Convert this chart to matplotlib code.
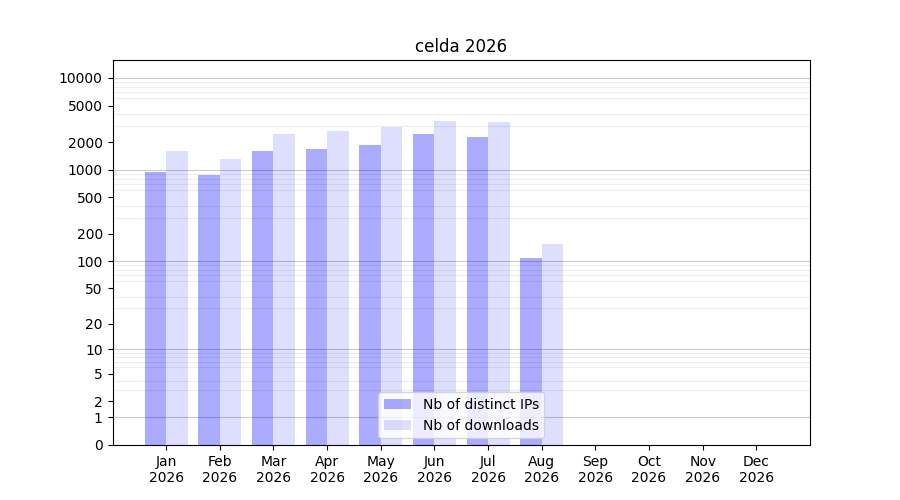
import matplotlib
matplotlib.use('Agg')
import matplotlib.pyplot as plt
import numpy as np

# Monthly download stats
months = ['Jan', 'Feb', 'Mar', 'Apr', 'May', 'Jun',
          'Jul', 'Aug', 'Sep', 'Oct', 'Nov', 'Dec']
year = '2026'
distinct_ips = [945, 875, 1600, 1680, 1860, 2450, 2280, 108, 0, 0, 0, 0]
downloads = [1600, 1310, 2450, 2650, 2920, 3400, 3310, 154, 0, 0, 0, 0]

ytick_values = [0, 1, 2, 5, 10, 20, 50, 100, 200, 500, 1000, 2000, 5000, 10000]


def forward(v):
    return np.log10(1 + np.clip(v, 0, None))


def inverse(v):
    return 10 ** v - 1


fig, ax = plt.subplots(figsize=(9, 5), dpi=100)
ax.set_yscale('function', functions=(forward, inverse))

x = np.arange(len(months))
ax.bar(x - 0.2, distinct_ips, width=0.4, color='blue', alpha=0.33,
       label='Nb of distinct IPs')
ax.bar(x + 0.2, downloads, width=0.4, color='blue', alpha=0.13,
       label='Nb of downloads')

ax.set_xticks(x)
ax.set_xticklabels([f'{m}\n{year}' for m in months])
ax.set_xlim(-1, 12)

ax.set_yticks(ytick_values)
ax.set_yticklabels([str(v) for v in ytick_values])
minor = [m * 10 ** d for d in range(4) for m in range(2, 10)]
ax.set_yticks(minor, minor=True)
ax.tick_params(axis='y', which='minor', length=0)
ax.grid(True, which='minor', axis='y', color='black', alpha=0.07,
        linewidth=0.8)
for d in range(5):
    ax.axhline(10 ** d, color='black', alpha=0.2, linewidth=0.8, zorder=1.5)
ax.set_ylim(0, 15700)

ax.set_title(f'celda {year}')
ax.legend(loc='lower center')

plt.savefig('out.png', dpi=100)
